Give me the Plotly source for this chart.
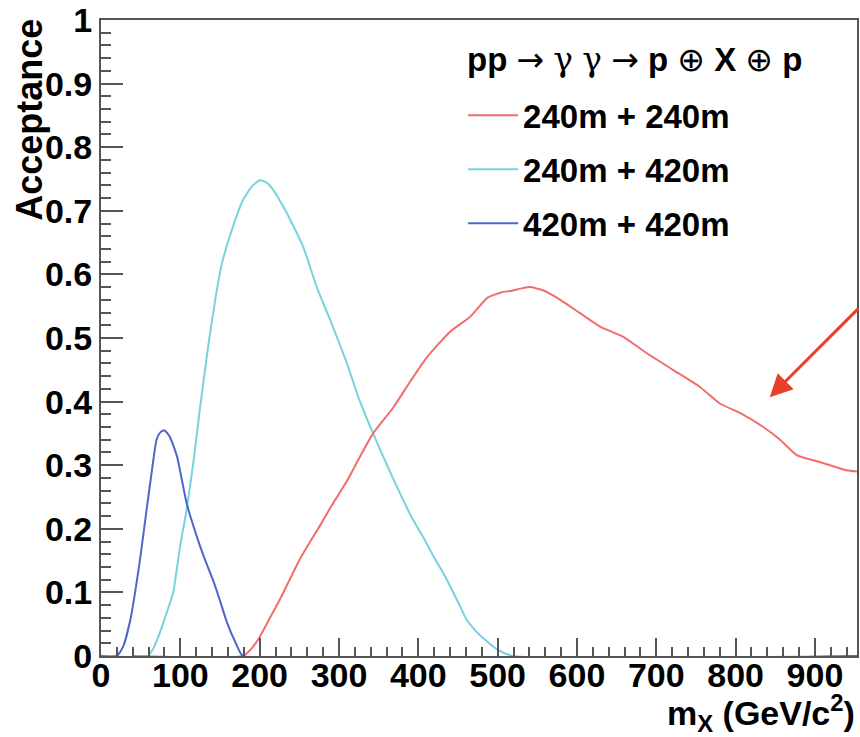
import plotly.graph_objects as go

# ---- data ----
red_name = "240m + 240m"
red_x = [40, 179, 190, 200, 213, 226, 251, 276, 290, 310, 325, 343, 368, 390, 411, 440, 465,
         487, 505, 516, 530, 541, 557, 579, 604, 629, 658, 688, 721, 755, 780, 806, 835,
         856, 877, 906, 940, 953]
red_y = [0, 0, 0.012, 0.03, 0.06, 0.09, 0.153, 0.205, 0.235, 0.275, 0.31, 0.35, 0.39, 0.432,
         0.47, 0.51, 0.533, 0.563, 0.572, 0.574, 0.578, 0.58, 0.575, 0.56, 0.539, 0.518,
         0.502, 0.476, 0.45, 0.423, 0.397, 0.382, 0.36, 0.34, 0.316, 0.305, 0.292, 0.29]

cyan_name = "240m + 420m"
cyan_x = [0, 59, 66, 74, 82, 91, 100, 108, 117, 125, 135, 144, 152, 165, 179, 190, 200, 208,
          217, 234, 255, 272, 289, 301, 310, 325, 343, 362, 381, 393, 406, 420, 436, 450,
          461, 472, 482, 500, 519, 953]
cyan_y = [0, 0, 0.012, 0.036, 0.065, 0.10, 0.175, 0.23, 0.31, 0.392, 0.486, 0.56, 0.615, 0.67,
          0.717, 0.738, 0.748, 0.745, 0.733, 0.697, 0.643, 0.58, 0.528, 0.49, 0.46, 0.405,
          0.35, 0.296, 0.245, 0.215, 0.187, 0.155, 0.12, 0.085, 0.057, 0.04, 0.028, 0.01,
          0, 0]

blue_name = "420m + 420m"
blue_x = [0, 20, 28, 37, 49, 58, 64, 70, 75, 80, 87, 96, 108, 121, 130, 141, 150, 159, 170,
          179, 953]
blue_y = [0, 0, 0.015, 0.057, 0.15, 0.235, 0.29, 0.34, 0.352, 0.355, 0.344, 0.313, 0.24,
          0.187, 0.155, 0.12, 0.087, 0.052, 0.02, 0, 0]

ARROW = '<span style="font-family:DejaVu Sans">\u2192</span>'
GAMMA = '<span style="font-family:DejaVu Serif">\u03b3</span>'
OPLUS = '<span style="font-family:DejaVu Sans">\u2295</span>'
header = ("<b>pp</b> " + ARROW + " " + GAMMA + " " + GAMMA + " " + ARROW + " <b>p</b> "
          + OPLUS + " <b>X</b> " + OPLUS + " <b>p</b>")
x_title = "m<sub>X</sub> (GeV/c<sup>2</sup>)"
y_title = "Acceptance"
x_range = [0, 953]
y_range = [0, 1]

RED = "#f26d6d"
CYAN = "#78d2de"
BLUE = "#4f66c8"
AXC = "#555555"
FONT = "Liberation Sans"

fig = go.Figure()
fig.add_trace(go.Scatter(x=cyan_x, y=cyan_y, mode="lines", name=cyan_name,
                         line=dict(color=CYAN, width=2, shape="spline", smoothing=0.5),
                         legendrank=2, legendgroup="b"))
fig.add_trace(go.Scatter(x=red_x, y=red_y, mode="lines", name=red_name,
                         line=dict(color=RED, width=2, shape="spline", smoothing=0.5),
                         legendrank=1, legendgroup="a"))
fig.add_trace(go.Scatter(x=blue_x, y=blue_y, mode="lines", name=blue_name,
                         line=dict(color=BLUE, width=2, shape="spline", smoothing=0.5),
                         legendrank=3, legendgroup="c"))

tickfont = dict(family=FONT, size=34, color="black", weight="bold")

fig.update_xaxes(range=x_range, tick0=0, dtick=100, ticks="inside", ticklen=18, tickwidth=1.5,
                 tickcolor=AXC, showline=True, linecolor=AXC, linewidth=2, mirror=True,
                 showgrid=False, zeroline=False, tickfont=tickfont, automargin=False,
                 ticklabelstandoff=-12,
                 minor=dict(dtick=20, ticks="inside", ticklen=9, tickcolor=AXC, showgrid=False))
fig.update_yaxes(range=y_range, tick0=0, dtick=0.1, ticks="inside", ticklen=22, tickwidth=1.5,
                 tickcolor=AXC, showline=True, linecolor=AXC, linewidth=2, mirror=True,
                 showgrid=False, zeroline=False, tickfont=tickfont, automargin=False,
                 minor=dict(dtick=0.02, ticks="inside", ticklen=10, tickcolor=AXC, showgrid=False))

fig.add_annotation(text=y_title, xref="paper", yref="paper", x=-0.094, y=0.843,
                   textangle=-90, showarrow=False, xanchor="center", yanchor="middle",
                   font=dict(family=FONT, size=36, color="black", weight="bold"))
fig.add_annotation(text=x_title, xref="paper", yref="paper", x=1.0, y=-0.089,
                   showarrow=False, xanchor="right", yanchor="middle",
                   font=dict(family=FONT, size=34, color="black", weight="bold"))
# legend header
fig.add_annotation(text=header, xref="paper", yref="paper", x=(465 - 101) / 756,
                   y=(656 - 60) / 636, showarrow=False, xanchor="left", yanchor="middle",
                   font=dict(family=FONT, size=33, color="black"))

# red arrow overlay
fig.add_annotation(x=843, y=0.407, xref="x", yref="y", text="", showarrow=True,
                   ax=90, ay=-90, arrowcolor="#e8402a", arrowwidth=3, arrowhead=2,
                   arrowsize=1.5, standoff=0)

fig.update_layout(
    width=860, height=737,
    margin=dict(l=101, r=3, t=20, b=81, autoexpand=False),
    paper_bgcolor="white", plot_bgcolor="white",
    showlegend=True,
    legend=dict(x=0.479, y=0.894, xanchor="left", yanchor="top",
                bgcolor="rgba(0,0,0,0)", borderwidth=0, tracegroupgap=8,
                itemwidth=50,
                font=dict(family=FONT, size=33, color="black", weight="bold")),
)

fig.write_html("out.html", config={"displayModeBar": False},
               post_script="document.body.style.margin='0px';document.body.style.padding='0px';")
